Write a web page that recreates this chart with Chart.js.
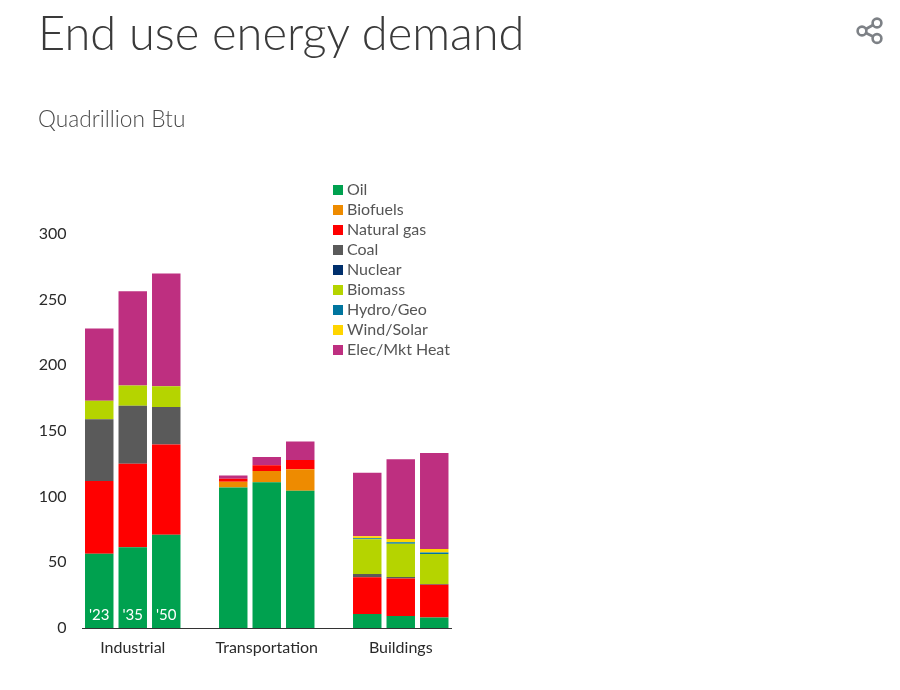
<!DOCTYPE html>
<html>
<head>
<meta charset="utf-8">
<title>End use energy demand</title>
<script src="https://cdn.jsdelivr.net/npm/chart.js@4"></script>
<style>
    html, body { margin:0; padding:0; background:#fff; }
    #wrap { position:relative; width:900px; height:690px; overflow:hidden; font-family:Lato, sans-serif; }
    #chart { position:absolute; left:0; top:0; }
    h1 { position:absolute; left:38px; top:2px; margin:0; font-size:47px; line-height:60px; font-weight:300; color:#3a3a3a; white-space:nowrap; }
    .unit { position:absolute; left:38px; top:105px; font-size:22.7px; line-height:28px; font-weight:300; color:#4a4a4a; }
    #legend { position:absolute; left:333px; top:179px; }
    .row { height:20px; line-height:20px; font-size:16px; color:#555; white-space:nowrap; }
    .row i { display:inline-block; width:10px; height:10px; margin-right:4px; }
    #share { position:absolute; left:855px; top:16px; }
</style>
</head>
<body>
<div id="wrap">
    <canvas id="chart" width="900" height="690"></canvas>
    <h1>End use energy demand</h1>
    <div class="unit">Quadrillion Btu</div>
    <div id="legend"></div>
    <svg id="share" width="30" height="30" viewBox="0 0 30 30" fill="none" stroke="#7d8186" stroke-width="2.6">
        <circle cx="7" cy="15" r="4.4"/><circle cx="22" cy="7" r="4.4"/><circle cx="22" cy="22.5" r="4.4"/>
        <path d="M11 13 L18 9 M11 17 L18 20.5"/>
    </svg>
</div>
<script>
// one slot per bar, empty slots make the gaps between groups
const slots = ['', 'Industrial', '', ' ', '', 'Transportation', '', '  ', '', 'Buildings', ''];
const years = ["'23", "'35", "'50"];
const yTicks = [0, 50, 100, 150, 200, 250, 300];

const oil =     [56.6, 61.5, 71, null, 107, 110.9, 104.6, null, 10.7, 9.1, 7.9];
const biofuels = [0, 0, 0, null, 4.4, 8.6, 16.2, null, 0, 0, 0];
const gas =     [55.4, 63.5, 68.7, null, 2.3, 4.4, 7.1, null, 27.9, 28.5, 25.1];
const coal =    [47, 44.3, 28.6, null, 0, 0, 0, null, 2.5, 1.2, 0.5];
const nuclear = [0, 0, 0, null, 0, 0, 0, null, 0, 0, 0];
const biomass = [14, 15.3, 15.7, null, 0, 0, 0, null, 26.4, 25.4, 22.8];
const hydro =   [0, 0, 0, null, 0, 0, 0, null, 0.8, 1, 1.1];
const wind =    [0, 0, 0, null, 0, 0, 0, null, 1.5, 2.6, 2.8];
const elec =    [55, 71.8, 86, null, 2.5, 6.3, 14.2, null, 48.5, 60.6, 73];

const seriesNames = ['Oil', 'Biofuels', 'Natural gas', 'Coal', 'Nuclear', 'Biomass', 'Hydro/Geo', 'Wind/Solar', 'Elec/Mkt Heat'];
const seriesValues = [oil, biofuels, gas, coal, nuclear, biomass, hydro, wind, elec];
const seriesColors = ['#00a14f', '#ee8b00', '#ff0000', '#5a5a5a', '#002f6c', '#b5d400', '#00759e', '#ffd500', '#be2f80'];

// white year labels sitting in the first group of bars
const yearLabels = {
    id: 'yearLabels',
    afterDatasetsDraw(chart){
        const ctx = chart.ctx, x = chart.scales.x, y = chart.scales.y;
        ctx.save();
        ctx.fillStyle = '#fff';
        ctx.font = '15px Lato, sans-serif';
        ctx.textAlign = 'center';
        ctx.textBaseline = 'middle';
        years.forEach((yr, i)=>{ ctx.fillText(yr, x.getPixelForValue(i), y.getPixelForValue(0) - 13); });
        ctx.restore();
    }
};

new Chart(document.getElementById('chart'), {
    type: 'bar',
    data: {
        labels: slots,
        datasets: seriesNames.map((name, i)=>({
            label: name,
            data: seriesValues[i],
            backgroundColor: seriesColors[i],
            barPercentage: 0.85,
            categoryPercentage: 1
        }))
    },
    options: {
        responsive: false,
        animation: false,
        layout: { padding: { top: 234, right: 449, left: 0, bottom: 0 } },
        plugins: { legend: { display: false }, tooltip: { enabled: false } },
        scales: {
            x: {
                stacked: true,
                afterFit(s){ s.height = 62; },
                grid: { display: false },
                border: { color: '#333', width: 1 },
                ticks: { autoSkip: false, maxRotation: 0, color: '#2a2a2a', padding: 2, font: { family: 'Lato, sans-serif', size: 16 } }
            },
            y: {
                stacked: true,
                min: 0,
                max: 300,
                afterFit(s){ s.width = 82.5; },
                afterBuildTicks(s){ s.ticks = yTicks.map(v=>({ value: v })); },
                grid: { display: false },
                border: { display: false },
                ticks: { color: '#2a2a2a', padding: 8, font: { family: 'Lato, sans-serif', size: 16 } }
            }
        }
    },
    plugins: [yearLabels]
});

// legend is plain html so it can float over the empty right part of the plot
const legend = document.getElementById('legend');
seriesNames.forEach((name, i)=>{
    const row = document.createElement('div');
    row.className = 'row';
    row.innerHTML = '<i style="background:' + seriesColors[i] + '"></i>' + name;
    legend.appendChild(row);
});
</script>
</body>
</html>
